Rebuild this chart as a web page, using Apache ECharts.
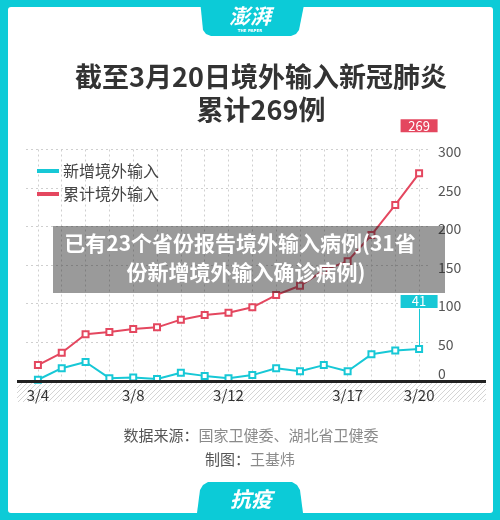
<!DOCTYPE html>
<html>
<head>
<meta charset="utf-8">
<script src="https://cdn.jsdelivr.net/npm/echarts@6/dist/echarts.min.js"></script>
<style>
html,body{margin:0;padding:0;background:#fff;}
#chart{width:500px;height:520px;}
</style>
</head>
<body>
<div id="chart"></div>
<script>
// ---- data ----
var dates = ['3/4','3/5','3/6','3/7','3/8','3/9','3/10','3/11','3/12','3/13','3/14','3/15','3/16','3/17','3/18','3/19','3/20'];
var newImported = [1, 16, 24, 3, 4, 2, 10, 6, 3, 7, 16, 12, 20, 12, 34, 39, 41];
var cumImported = [20, 36, 60, 63, 67, 69, 79, 85, 88, 95, 111, 123, 143, 155, 189, 228, 269];
var seriesNames = ['新增境外输入', '累计境外输入'];
var yTicks = [0, 50, 100, 150, 200, 250, 300];
var shownDateLabels = ['3/4', '3/8', '3/12', '3/17', '3/20'];
var titleLines = ['截至3月20日境外输入新冠肺炎', '累计269例'];
var overlayLines = ['已有23个省份报告境外输入病例(31省', '份新增境外输入确诊病例)'];

var CYAN = '#17c8d6';
var RED = '#e4475f';
var FRAME = '#0ccbd7';
var FONT = '"Noto Sans CJK SC", "Noto Sans", sans-serif';

// hatch pattern
var pc = document.createElement('canvas');
pc.width = 5; pc.height = 5;
var pctx = pc.getContext('2d');
pctx.fillStyle = '#ffffff'; pctx.fillRect(0,0,5,5);
pctx.strokeStyle = '#d4d4d4'; pctx.lineWidth = 1;
pctx.beginPath();
pctx.moveTo(-1,6); pctx.lineTo(6,-1);
pctx.moveTo(-1,1); pctx.lineTo(1,-1);
pctx.moveTo(4,6); pctx.lineTo(6,4);
pctx.stroke();

var last = dates.length - 1;
var chart = echarts.init(document.getElementById('chart'), null, {renderer: 'canvas'});

function lastLabel(color) {
  return {
    show: true, position: 'top', distance: 37,
    color: '#fff', backgroundColor: color,
    fontSize: 13, fontFamily: FONT, lineHeight: 13,
    padding: [0, 9, 0, 9], width: 19, align: 'center'
  };
}
function connector(values, color) {
  var v = values[last];
  return {
    silent: true, symbol: 'none', animation: false,
    label: {show: false},
    lineStyle: {color: color, width: 1, type: 'solid'},
    data: [[{coord: [dates[last], v + 4]}, {coord: [dates[last], v + 52]}]]
  };
}

var option = {
  animation: false,
  backgroundColor: '#fff',
  textStyle: {fontFamily: FONT},
  title: {
    text: titleLines.join('\n'),
    left: 261, textAlign: 'center', top: 60, padding: 0,
    textStyle: {fontSize: 27, fontWeight: 'bold', color: '#333', lineHeight: 33, fontFamily: FONT}
  },
  legend: {
    orient: 'vertical', left: 32, top: 158,
    itemWidth: 22, itemHeight: 4, itemGap: 7,
    icon: 'rect',
    data: [
      {name: seriesNames[0], itemStyle: {color: CYAN}},
      {name: seriesNames[1], itemStyle: {color: RED}}
    ],
    textStyle: {fontSize: 16, color: '#444', lineHeight: 16, fontFamily: FONT, padding: [0,0,0,-1]}
  },
  grid: {left: 26, right: 69, top: 149.5, bottom: 139.5, containLabel: false},
  xAxis: {
    type: 'category', data: dates, boundaryGap: true,
    axisLine: {show: false}, axisTick: {show: false},
    axisLabel: {
      interval: function (i, v) { return shownDateLabels.indexOf(v) >= 0; },
      color: '#333', fontSize: 15, margin: 7, fontFamily: FONT
    },
    splitLine: {show: true, interval: 0, alignWithLabel: true, lineStyle: {color: '#cfcfcf', type: [2, 3], width: 1}}
  },
  yAxis: {
    type: 'value', position: 'right', min: yTicks[0], max: yTicks[yTicks.length-1], interval: 50,
    axisLine: {show: false}, axisTick: {show: false},
    axisLabel: {
      color: '#555', fontSize: 14, margin: 7, fontFamily: FONT,
      formatter: function (v) { return v === 0 ? '{z|' + v + '}' : '{n|' + v + '}'; },
      rich: {
        z: {fontSize: 14, color: '#555', padding: [0,0,13,0], fontFamily: FONT},
        n: {fontSize: 14, color: '#555', padding: [5,0,0,0], fontFamily: FONT}
      }
    },
    splitLine: {show: true, lineStyle: {color: '#cfcfcf', type: [2, 3], width: 1}}
  },
  series: [
    {
      name: seriesNames[0], type: 'line', data: newImported.map(function (v, i) {
        return i === last ? {value: v, label: lastLabel(CYAN)} : v;
      }),
      symbol: 'emptyRect', symbolSize: 6,
      lineStyle: {color: CYAN, width: 2},
      itemStyle: {color: CYAN, borderWidth: 1.5},
      z: 3,
      markLine: connector(newImported, CYAN)
    },
    {
      name: seriesNames[1], type: 'line', data: cumImported.map(function (v, i) {
        return i === last ? {value: v, label: lastLabel(RED)} : v;
      }),
      symbol: 'emptyRect', symbolSize: 6,
      lineStyle: {color: RED, width: 2},
      itemStyle: {color: RED, borderWidth: 1.5},
      z: 3,
      markLine: connector(cumImported, RED)
    }
  ],
  graphic: [
    {type: 'rect', z: -20, silent: true, shape: {x: 0, y: 0, width: 500, height: 520}, style: {fill: FRAME}},
    {type: 'rect', z: -19, silent: true, shape: {x: 8, y: 7, width: 485, height: 506, r: 3}, style: {fill: '#fff'}},
    // top tab
    {type: 'polygon', z: -18, silent: true, shape: {points: [[200,0],[305,0],[299,30],[296,34],[291,36],[211,36],[206,34],[203,30]]}, style: {fill: FRAME}},
    {type: 'text', z: -17, silent: true, style: {x: 250, y: 16, text: '澎湃', fill: '#fff', fontSize: 21, fontWeight: 'bold', fontStyle: 'italic', fontFamily: '"Noto Sans CJK SC", sans-serif', align: 'center', verticalAlign: 'middle'}},
    {type: 'text', z: -17, silent: true, style: {x: 250, y: 31, text: 'THE PAPER', fill: '#fff', fontSize: 4, fontWeight: 'bold', fontFamily: 'DejaVu Sans', align: 'center', verticalAlign: 'middle'}},
    // bottom tab
    {type: 'polygon', z: -18, silent: true, shape: {points: [[197,513],[200,490],[203,485],[208,482],[292,482],[297,485],[300,490],[303,513]]}, style: {fill: FRAME}},
    {type: 'text', z: -17, silent: true, style: {x: 251, y: 499, text: '抗疫', fill: '#fff', fontSize: 21, fontWeight: 'bold', fontStyle: 'italic', fontFamily: FONT, align: 'center', verticalAlign: 'middle'}},
    // hatched band under axis
    {type: 'rect', z: -5, silent: true, shape: {x: 17, y: 382, width: 469, height: 20}, style: {fill: {image: pc, repeat: 'repeat'}}},
    {type: 'line', z: 5, silent: true, shape: {x1: 17, y1: 381.5, x2: 486, y2: 381.5}, style: {stroke: '#222', lineWidth: 3}},
    // footer
    {type: 'text', silent: true, style: {x: 251, y: 435, text: '{a|数据来源：}{b|国家卫健委、湖北省卫健委}', align: 'center', verticalAlign: 'middle',
      rich: {a: {fontSize: 15, fill: '#555', fontFamily: FONT}, b: {fontSize: 15, fill: '#8a8a8a', fontFamily: FONT}}}},
    {type: 'text', silent: true, style: {x: 250, y: 459, text: '{a|制图：}{b|王基炜}', align: 'center', verticalAlign: 'middle',
      rich: {a: {fontSize: 15, fill: '#555', fontFamily: FONT}, b: {fontSize: 15, fill: '#8a8a8a', fontFamily: FONT}}}},
    // overlay
    {type: 'rect', z: 100, silent: true, shape: {x: 53, y: 226, width: 392, height: 67}, style: {fill: 'rgba(30,30,30,0.45)'}},
    {type: 'text', z: 101, silent: true, style: {x: 240, y: 243, text: overlayLines[0], fill: '#fff', fontSize: 21, fontWeight: 'bold', fontFamily: FONT, align: 'center', verticalAlign: 'middle'}},
    {type: 'text', z: 101, silent: true, style: {x: 246, y: 272, text: overlayLines[1], fill: '#fff', fontSize: 21, fontWeight: 'bold', fontFamily: FONT, align: 'center', verticalAlign: 'middle'}}
  ]
};
chart.setOption(option);
</script>
</body>
</html>
